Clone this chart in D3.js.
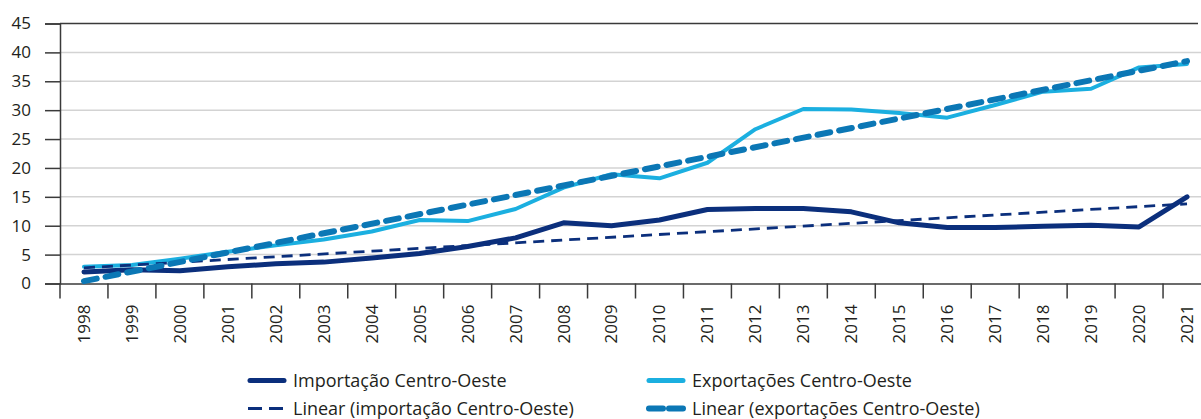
<!DOCTYPE html>
<html><head><meta charset="utf-8">
<script src="https://cdn.jsdelivr.net/npm/d3@7"></script>
<style>
html,body{margin:0;padding:0;background:#fff;overflow:hidden}
svg{display:block}
text{font-family:"Open Sans","Noto Sans",sans-serif;fill:#231f20}
</style></head><body>
<svg id="c" width="1201" height="419"></svg>
<script>
const years = ["1998","1999","2000","2001","2002","2003","2004","2005","2006","2007","2008","2009","2010","2011","2012","2013","2014","2015","2016","2017","2018","2019","2020","2021"];
const importacao = [2.0,2.4,2.2,2.9,3.4,3.7,4.4,5.2,6.4,7.9,10.5,10.0,11.0,12.8,13.0,13.0,12.4,10.5,9.7,9.7,9.9,10.1,9.8,15.0];
const exportacao = [2.9,3.2,4.3,5.5,6.6,7.6,9.0,11.0,10.8,12.9,16.6,18.9,18.2,20.9,26.7,30.2,30.1,29.5,28.7,30.9,33.2,33.7,37.4,38.0];
const yTicks = [0,5,10,15,20,25,30,35,40,45];
const legendLabels = ["Importação Centro-Oeste","Exportações Centro-Oeste","Linear (importação Centro-Oeste)","Linear (exportações Centro-Oeste)"];

const cNavy="#0b2f7c", cLight="#1bafe0", cMid="#0b77b5";

function linfit(v){
  const n=v.length; let sx=0,sy=0,sxx=0,sxy=0;
  v.forEach((y,i)=>{sx+=i;sy+=y;sxx+=i*i;sxy+=i*y;});
  const b=(n*sxy-sx*sy)/(n*sxx-sx*sx), a=(sy-b*sx)/n;
  return v.map((_,i)=>a+b*i);
}
const trendImp = linfit(importacao), trendExp = linfit(exportacao);

const svg=d3.select("#c");
const x=d3.scaleBand().domain(years).range([60,1211]);
const y=d3.scaleLinear().domain([0,45]).range([283.5,23.5]);
const cx=d=>x(d)+x.bandwidth()/2;

// gridlines
svg.append("g").selectAll("line").data(yTicks.filter(t=>t>0&&t<45)).join("line")
  .attr("x1",60).attr("x2",1201).attr("y1",d=>y(d)).attr("y2",d=>y(d))
  .attr("stroke","#d3d3d3").attr("stroke-width",1.5);
// top border
svg.append("line").attr("x1",60).attr("x2",1198).attr("y1",y(45)).attr("y2",y(45))
  .attr("stroke","#3a3a3a").attr("stroke-width",1.5);

// y axis
const yAx=svg.append("g").attr("transform","translate(60,0)")
  .call(d3.axisLeft(y).tickValues(yTicks).tickSize(15).tickPadding(14));
yAx.select(".domain").attr("stroke","#3a3a3a").attr("stroke-width",1.5);
yAx.selectAll(".tick line").attr("stroke","#3a3a3a").attr("stroke-width",1.5);
yAx.selectAll("text").style("font-size","17px").attr("fill","#231f20");

// x axis
const xAx=svg.append("g").attr("transform","translate(0,283.5)")
  .call(d3.axisBottom(x).tickSize(0).tickFormat(d=>d));
xAx.select(".domain").attr("stroke","#3a3a3a").attr("stroke-width",1.5);
xAx.selectAll("text").style("font-size","17px").attr("fill","#231f20")
  .attr("transform","rotate(-90)").attr("text-anchor","end")
  .attr("x",-21).attr("y",0).attr("dy","0.35em");
// tick marks between categories
xAx.append("g").selectAll("line").data(years).join("line")
  .attr("x1",d=>x(d)).attr("x2",d=>x(d)).attr("y1",0).attr("y2",15)
  .attr("stroke","#3a3a3a").attr("stroke-width",1.5);

const line=d3.line().x((d,i)=>cx(years[i])).y(d=>y(d));
svg.append("path").datum(importacao).attr("d",line).attr("fill","none")
  .attr("stroke",cNavy).attr("stroke-width",5).attr("stroke-linejoin","round").attr("stroke-linecap","round");
svg.append("path").datum(exportacao).attr("d",line).attr("fill","none")
  .attr("stroke",cLight).attr("stroke-width",4).attr("stroke-linejoin","round").attr("stroke-linecap","round");
svg.append("path").datum([trendImp[0],trendImp[trendImp.length-1]])
  .attr("d",d3.line().x((d,i)=>cx(years[i*(years.length-1)])).y(d=>y(d)))
  .attr("fill","none").attr("stroke",cNavy).attr("stroke-width",2.8).attr("stroke-dasharray","11,7");
svg.append("path").datum([trendExp[0],trendExp[trendExp.length-1]])
  .attr("d",d3.line().x((d,i)=>cx(years[i*(years.length-1)])).y(d=>y(d)))
  .attr("fill","none").attr("stroke",cMid).attr("stroke-width",6).attr("stroke-dasharray","13,9").attr("stroke-linecap","round");

// legend
const leg=[
  {x:248,y:380.5,c:cNavy,w:5,dash:null,cap:"round"},
  {x:647,y:380.5,c:cLight,w:5,dash:null,cap:"round"},
  {x:248,y:408.5,c:cNavy,w:3,dash:"14,7",cap:"butt"},
  {x:647,y:408.5,c:cMid,w:6,dash:"14,6",cap:"round"}
];
leg.forEach((l,i)=>{
  const g=svg.append("g");
  const x1=l.x+(l.cap==="round"?2:0), x2=l.x+38-(l.cap==="round"?2:0);
  g.append("line").attr("x1",x1).attr("x2",x2).attr("y1",l.y).attr("y2",l.y)
   .attr("stroke",l.c).attr("stroke-width",l.w).attr("stroke-linecap",l.cap)
   .attr("stroke-dasharray",l.dash);
  g.append("text").attr("x",l.x+45).attr("y",l.y).attr("dy","0.35em")
   .style("font-size","18px").text(legendLabels[i]);
});
</script></body></html>
